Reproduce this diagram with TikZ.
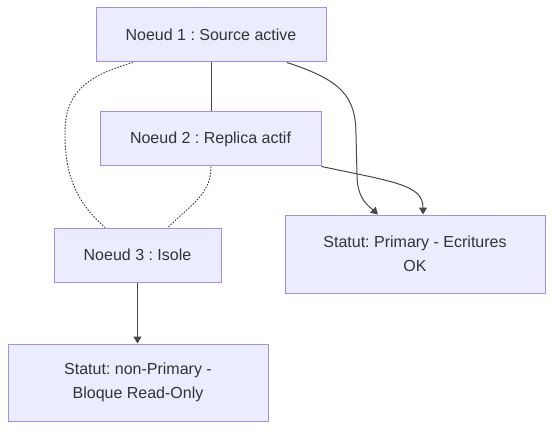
\documentclass[tikz,border=0pt]{standalone}
\usepackage{fontspec}
\setmainfont{Liberation Sans}
\usetikzlibrary{arrows.meta,calc}
\definecolor{boxfill}{HTML}{ECECFF}
\definecolor{boxline}{HTML}{9370DB}
\definecolor{ink}{HTML}{333333}
\frenchspacing
\begin{document}
\begin{tikzpicture}[x=1pt,y=-1pt,
  box/.style={draw=boxline!80,fill=boxfill,line width=1pt,inner sep=0pt,
    text=ink,font=\frenchspacing\fontsize{16}{24}\selectfont,align=center},
  link/.style={draw=ink!90,line width=1pt},
  arrowlink/.style={link,-{Triangle[length=7pt,width=8pt]}},
  dotlink/.style={draw=ink,line width=0.9pt,dash pattern=on 1.5pt off 1.5pt}]
\useasboundingbox (0,0) rectangle (553,430);
\node[box,minimum width=230pt,minimum height=54pt] (n1) at (211,35) {Noeud 1 : Source active};
\node[box,minimum width=221pt,minimum height=54pt] (n2) at (210.5,139) {Noeud 2 : Replica actif};
\node[box,minimum width=167pt,minimum height=54pt] (n3) at (137.5,255) {Noeud 3 : Isole};
\node[box,minimum width=260pt,minimum height=78pt] (s1) at (415,254) {Statut: Primary - Ecritures\\OK};
\node[box,minimum width=260pt,minimum height=77pt] (s2) at (138,382.5) {Statut: non-Primary -\\Bloque Read-Only};
% solid link
\draw[link] (n1.south) -- (n1.south |- n2.north);
% dotted links
\draw[dotlink] ([xshift=-78pt]n1.south) .. controls (90,75) and (66,90) .. (65,130)
  .. controls (64,180) and (80,205) .. ([xshift=-32.5pt]n3.north);
\draw[dotlink] ([xshift=0.5pt]n2.south) .. controls (211,195) and (190,205) .. ([xshift=30.5pt]n3.north);
% arrows to Primary
\draw[arrowlink] ([xshift=76pt]n1.south) .. controls (340,80) and (356,95) .. (356,135)
  -- (357,175) .. controls (357,200) and (370,207) .. ([xshift=-37pt]s1.north);
\draw[arrowlink] (n2.south east) .. controls (395,182) and (423,185) .. ([xshift=8pt]s1.north);
% arrow to non-Primary
\draw[arrowlink] (n3.south) -- (n3.south |- s2.north);
\end{tikzpicture}
\end{document}
